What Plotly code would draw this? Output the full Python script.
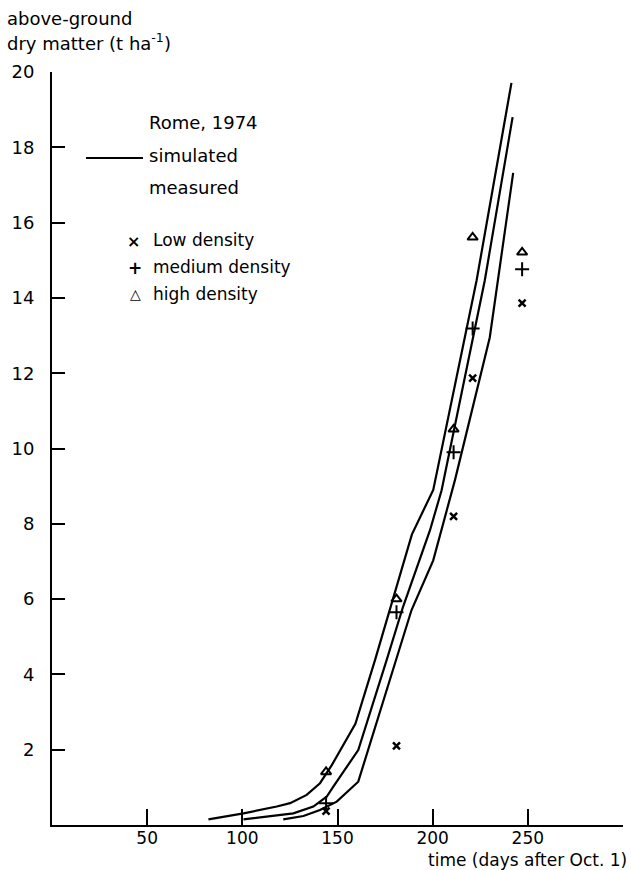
import plotly.graph_objects as go

# Simulated above-ground dry matter (t/ha) against days after Oct. 1
sim_high_days = [82.2, 100.6, 118.1, 125.1, 133.8, 140.8, 147.0, 159.4, 169.7, 189.1, 200.3, 223.1, 241.4]
sim_high_dm = [0.15, 0.31, 0.49, 0.58, 0.80, 1.11, 1.59, 2.69, 4.38, 7.72, 8.90, 14.47, 19.71]

sim_med_days = [100.6, 126.8, 137.3, 144.3, 147.8, 160.9, 175.8, 184.4, 198.6, 204.7, 227.4, 242.0]
sim_med_dm = [0.15, 0.31, 0.49, 0.75, 1.02, 1.99, 4.38, 5.79, 7.83, 8.89, 14.47, 18.80]

sim_low_days = [121.5, 132.1, 140.8, 149.6, 160.9, 188.9, 200.3, 211.7, 230.0, 242.3]
sim_low_dm = [0.15, 0.24, 0.40, 0.62, 1.15, 5.71, 7.03, 9.16, 12.95, 17.32]

# Measured harvests
meas_days = [144, 181, 211, 221, 247]
meas_low = [0.37, 2.10, 8.20, 11.87, 13.86]
meas_medium = [0.58, 5.65, 9.90, 13.19, 14.76]
meas_high = [1.41, 6.00, 10.51, 15.61, 15.21]

x_ticks = [50, 100, 150, 200, 250]
y_ticks = [2, 4, 6, 8, 10, 12, 14, 16, 18, 20]

FONT = "DejaVu Sans"
INK = "black"

fig = go.Figure()

for days, dm in [(sim_high_days, sim_high_dm), (sim_med_days, sim_med_dm), (sim_low_days, sim_low_dm)]:
    fig.add_trace(go.Scatter(x=days, y=dm, mode="lines",
                             line=dict(color=INK, width=2.2), showlegend=False, hoverinfo="skip"))

fig.add_trace(go.Scatter(x=meas_days, y=meas_low, mode="markers", showlegend=False,
                         marker=dict(symbol="x-thin", size=7, line=dict(color=INK, width=2.5))))
fig.add_trace(go.Scatter(x=meas_days, y=meas_medium, mode="markers", showlegend=False,
                         marker=dict(symbol="cross-thin", size=10, line=dict(color=INK, width=2))))
fig.add_trace(go.Scatter(x=meas_days, y=meas_high, mode="markers", showlegend=False,
                         marker=dict(symbol="triangle-up-open", size=9, color=INK,
                                     line=dict(color=INK, width=2))))

L, R, T, B = 52, 8, 72, 45
W, H = 631, 870
pw, ph = W - L - R, H - T - B


def px(xp):
    return (xp - L) / pw


def py(yp):
    return (H - B - yp) / ph


def label(text, x, y, xanchor="left", size=18):
    fig.add_annotation(text=text, x=px(x), y=py(y), xref="paper", yref="paper",
                       xanchor=xanchor, yanchor="middle", showarrow=False,
                       font=dict(family=FONT, size=size, color=INK))


# axis titles
label("above-ground", 5, 18)
label("dry matter (t ha<sup>-1</sup>)", 5, 42)
label("time (days after Oct. 1)", 629, 860, xanchor="right", size=17)

# legend block
label("Rome, 1974", 147, 122)
label("simulated", 147, 155)
label("measured", 147, 187)
fig.add_shape(type="line", xref="paper", yref="paper", x0=px(86), x1=px(143),
              y0=py(158), y1=py(158), line=dict(color=INK, width=2))
label("<b>×</b>", 133, 241, xanchor="center", size=16)
label("Low density", 151, 240, size=17)
label("<b>+</b>", 135, 268, xanchor="center", size=17)
label("<b>△</b>", 135, 294, xanchor="center", size=14)
label("medium density", 151, 267, size=17)
label("high density", 151, 294, size=17)

fig.update_layout(
    width=W, height=H,
    margin=dict(l=L, r=R, t=T, b=B),
    paper_bgcolor="white", plot_bgcolor="white",
    font=dict(family=FONT, size=18, color=INK),
    showlegend=False,
)
fig.update_xaxes(range=[0, 300], tickvals=x_ticks, ticktext=[str(v) for v in x_ticks],
                 ticks="inside", ticklen=16, tickwidth=2, tickcolor=INK,
                 showline=True, linecolor=INK, linewidth=2, showgrid=False, zeroline=False,
                 ticklabelstandoff=-3,
                 tickfont=dict(family=FONT, size=17, color=INK))
fig.update_yaxes(range=[0, 20], tickvals=y_ticks, ticktext=[str(v) for v in y_ticks],
                 ticks="inside", ticklen=13, tickwidth=2, tickcolor=INK,
                 showline=True, linecolor=INK, linewidth=2, showgrid=False, zeroline=False,
                 ticklabelstandoff=12,
                 tickfont=dict(family=FONT, size=18, color=INK))

fig.write_html("out.html", config={"displayModeBar": False})
